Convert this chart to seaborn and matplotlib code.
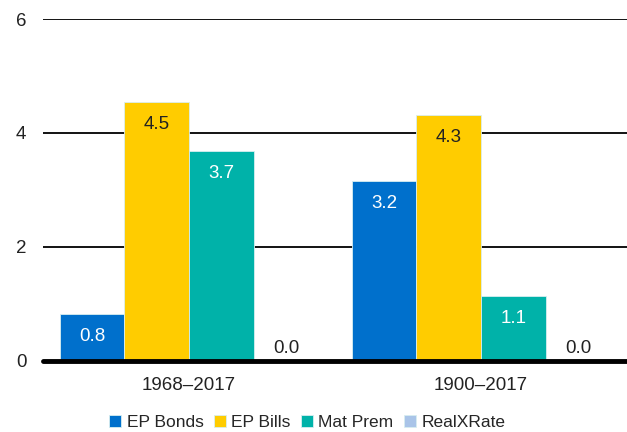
import numpy as np
import pandas as pd
import matplotlib
matplotlib.use("Agg")
import matplotlib.pyplot as plt
import seaborn as sns

# data
periods = ["1968–2017", "1900–2017"]
series = ["EP Bonds", "EP Bills", "Mat Prem", "RealXRate"]
ep_bonds = [0.83, 3.16]
ep_bills = [4.54, 4.32]
mat_prem = [3.68, 1.14]
real_x_rate = [0.0, 0.0]

colors = ["#0070CC", "#FFCC00", "#00B2A9", "#A9C4E8"]
label_colors = ["white", "#222222", "white", "#222222"]

df = pd.DataFrame({
    "period": periods * 4,
    "series": np.repeat(series, 2),
    "value": ep_bonds + ep_bills + mat_prem + real_x_rate,
})

sns.set_style("white")
plt.rcParams["font.family"] = ["Liberation Sans", "DejaVu Sans"]

fig = plt.figure(figsize=(6.27, 4.32), dpi=100)
ax = fig.add_axes([0.0686, 0.1644, 0.9314, 0.7916])

sns.barplot(
    data=df, x="period", y="value", hue="series",
    order=periods, hue_order=series, palette=colors, saturation=1,
    width=0.885, edgecolor="#d8eef0", linewidth=0.6,
    errorbar=None, ax=ax, zorder=3,
)

# value labels
for cont, lc in zip(ax.containers, label_colors):
    for bar in cont:
        h = bar.get_height()
        x = bar.get_x() + bar.get_width() / 2
        if h > 0.3:
            ax.text(x, h - 0.25, f"{h:.1f}", ha="center", va="top",
                    color=lc, fontsize=13.5, zorder=5)
        else:
            ax.text(x, h + 0.07, f"{h:.1f}", ha="center", va="bottom",
                    color="#222222", fontsize=13.5, zorder=5)

ax.set_ylim(0, 6)
ax.set_xlim(-0.5, 1.5)
ax.set_yticks([0, 2, 4, 6])
ax.yaxis.grid(True, color="black", linewidth=1.3, zorder=0)
ax.set_axisbelow(True)
ax.axhline(0, color="black", linewidth=3.5, zorder=4, clip_on=False)
for s in ax.spines.values():
    s.set_visible(False)
ax.set_xlabel("")
ax.set_ylabel("")
ax.tick_params(axis="y", length=0, pad=12, labelsize=13.5, labelcolor="#222222")
ax.tick_params(axis="x", length=0, pad=11.5, labelsize=13.5, labelcolor="#222222")

sns.move_legend(
    ax, "center", bbox_to_anchor=(0.49, 0.022),
    bbox_transform=fig.transFigure, ncol=4, frameon=False, title=None,
    fontsize=12.5, handlelength=0.7, handleheight=0.7, handletextpad=0.3,
    columnspacing=0.6,
)

fig.savefig("out.png", dpi=100)
